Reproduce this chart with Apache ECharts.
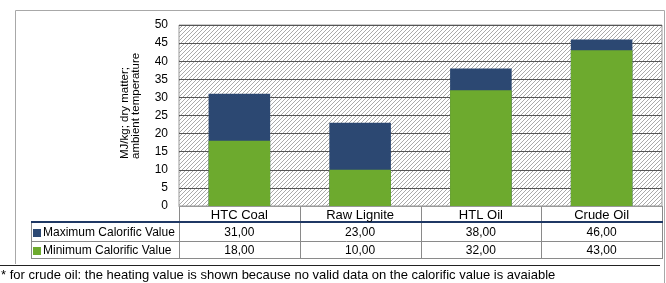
<!DOCTYPE html>
<html><head><meta charset="utf-8">
<script src="https://cdn.jsdelivr.net/npm/echarts@6/dist/echarts.min.js"></script>
<style>html,body{margin:0;padding:0;background:#fff}#c{width:666px;height:283px}</style>
</head><body><div id="c"></div>
<script>
const categories = ['HTC Coal', 'Raw Lignite', 'HTL Oil', 'Crude Oil'];
const maxValues = [31, 23, 38, 46];
const minValues = [18, 10, 32, 43];
const seriesNames = ['Maximum Calorific Value', 'Minimum Calorific Value'];
const yTicks = {min: 0, max: 50, interval: 5};
const yAxisTitle = 'MJ/kg; dry matter;\nambient temperature';
const footnote = '* for crude oil: the heating value is shown because no valid data on the calorific value is avaiable';

const NAVY = '#2C4872', GREEN = '#6DAA2E';
const FONT = 'Liberation Sans, Arial, sans-serif';

const pc = document.createElement('canvas');
pc.width = 4; pc.height = 4;
const ctx = pc.getContext('2d');
ctx.fillStyle = '#fff'; ctx.fillRect(0,0,4,4);
ctx.strokeStyle = '#aaaaaa'; ctx.lineWidth = 1;
ctx.beginPath(); ctx.moveTo(-1,5); ctx.lineTo(5,-1); ctx.stroke();
ctx.beginPath(); ctx.moveTo(-1,1); ctx.lineTo(1,-1); ctx.stroke();
ctx.beginPath(); ctx.moveTo(3,5); ctx.lineTo(5,3); ctx.stroke();

const chart = echarts.init(document.getElementById('c'), null, {renderer: 'canvas'});
const fmt = v => v.toFixed(2).replace('.', ',');

chart.setOption({
  animation: false,
  grid: {left: 179, right: 4, top: 25, bottom: 77, show: true, borderColor: '#999', borderWidth: 1,
         backgroundColor: {image: pc, repeat: 'repeat'}},
  legend: {left: 33, top: 226, orient: 'vertical', itemGap: 4, itemWidth: 8, itemHeight: 8, padding: 0,
           icon: 'rect', textStyle: {fontFamily: FONT, fontSize: 12, color: '#000', padding: [0,0,0,-3], lineHeight: 14},
           data: seriesNames},
  xAxis: {type: 'category', data: categories,
          axisLine: {show: true, lineStyle: {color: '#999'}}, axisTick: {show: false},
          axisLabel: {fontFamily: FONT, fontSize: 13, color: '#000', margin: 3}},
  yAxis: {type: 'value', min: yTicks.min, max: yTicks.max, interval: yTicks.interval,
          axisLine: {show: false}, axisTick: {show: false},
          axisLabel: {fontFamily: FONT, fontSize: 12, color: '#000', margin: 11},
          splitLine: {lineStyle: {color: '#555', width: 1}}},
  series: [
    {name: seriesNames[0], type: 'bar', data: maxValues, barWidth: '51%', barGap: '-100%', itemStyle: {color: NAVY}},
    {name: seriesNames[1], type: 'bar', data: minValues, barWidth: '51%', itemStyle: {color: GREEN}}
  ]
});

function buildTable() {
  const bounds = [];
  const half = (chart.convertToPixel({xAxisIndex: 0}, categories[1]) - chart.convertToPixel({xAxisIndex: 0}, categories[0])) / 2;
  categories.forEach((c, i) => bounds.push(chart.convertToPixel({xAxisIndex: 0}, c) - half));
  const lastX = chart.convertToPixel({xAxisIndex: 0}, categories[categories.length - 1]) + half;
  bounds.push(lastX);
  const yTop = chart.convertToPixel({yAxisIndex: 0}, 0);
  const yHead = 222, yR1 = 241, yBot = 258, tblLeft = 31;
  const g = [];
  const line = (x1,y1,x2,y2,color,w) => g.push({type: 'line', shape: {x1,y1,x2,y2}, style: {stroke: color, lineWidth: w || 1}, silent: true});
  // frame
  line(15.5, 10.5, 664.5, 10.5, '#a8a8a8');
  line(15.5, 10.5, 15.5, 264, '#a8a8a8');
  line(664.5, 10.5, 664.5, 283, '#a8a8a8');
  line(0, 265.5, 660, 265.5, '#222');
  // table verticals
  bounds.forEach(x => line(Math.round(x)+0.5, yTop, Math.round(x)+0.5, yBot, '#8a8a8a'));
  line(tblLeft+0.5, yHead, tblLeft+0.5, yBot, '#8a8a8a');
  line(tblLeft, yR1+0.5, lastX, yR1+0.5, '#8a8a8a');
  line(tblLeft, yBot+0.5, lastX+1, yBot+0.5, '#8a8a8a');
  line(tblLeft, yHead, lastX+1, yHead, '#1F3864', 2);
  const rows = [maxValues, minValues];
  const rowY = [(yHead+yR1)/2+1, (yR1+yBot)/2+1];
  rows.forEach((vals, r) => vals.forEach((v, i) => {
    g.push({type: 'text', x: chart.convertToPixel({xAxisIndex: 0}, categories[i]), y: rowY[r], silent: true,
      style: {text: fmt(v), fontFamily: FONT, fontSize: 12, fill: '#000', align: 'center', verticalAlign: 'middle'}});
  }));
  g.push({type: 'text', x: 130, y: 159, rotation: Math.PI / 2, silent: true,
    style: {text: yAxisTitle, fontFamily: FONT, fontSize: 11.5, lineHeight: 11, fill: '#000', align: 'left', verticalAlign: 'middle'}});
  g.push({type: 'text', x: 1, y: 275.5, silent: true,
    style: {text: footnote, fontFamily: FONT, fontSize: 13, fill: '#000', align: 'left', verticalAlign: 'middle'}});
  chart.setOption({graphic: g});
}
buildTable();
</script></body></html>
